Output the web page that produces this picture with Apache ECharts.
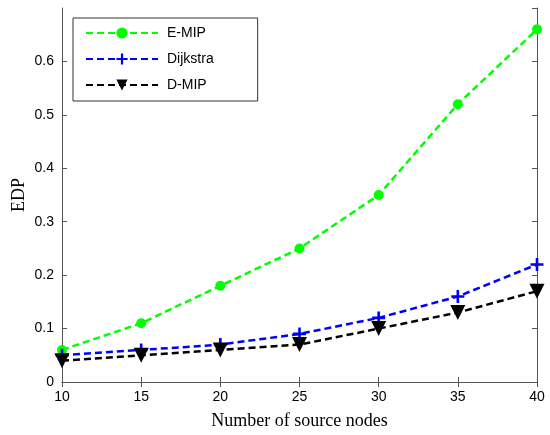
<!DOCTYPE html>
<html lang="en">
<head>
  <meta charset="UTF-8">
  <title>EDP</title>
  <style>
  html, body {
  margin: 0;
  padding: 0;
  width: 100%;
  height: 100%;
  background: #fff;
}

.main {
  width: 550px;
  height: 435px;
}
  </style>
</head>
<body>
<div class="main" id="main"></div>
<script src="https://cdn.jsdelivr.net/npm/echarts@6/dist/echarts.min.js"></script>
<script>
  var sourceNodes = [10, 15, 20, 25, 30, 35, 40];
  var eMip = [0.06, 0.11, 0.18, 0.25, 0.35, 0.52, 0.66];
  var dijkstra = [0.05, 0.06, 0.07, 0.09, 0.12, 0.16, 0.22];
  var dMip = [0.04, 0.05, 0.06, 0.07, 0.10, 0.13, 0.17];
  var seriesNames = ['E-MIP', 'Dijkstra', 'D-MIP'];

  function pairs(ys) {
    return sourceNodes.map(function (x, i) { return [x, ys[i]]; });
  }

  var plusPath = 'path://M4,0h2v4h4v2h-4v4h-2v-4h-4v-2h4z';
  var triPath = 'path://M0,0L10,0L5,9Z';

  var chart = echarts.init(document.getElementById('main'));

  var tickFont = { fontFamily: 'Liberation Sans', fontSize: 14, color: '#000' };
  var axisLine = { lineStyle: { color: '#555', width: 1 } };

  function line(name, ys, color, symbol, size) {
    return {
      name: name,
      type: 'line',
      data: pairs(ys),
      symbol: symbol,
      symbolSize: size,
      showAllSymbol: true,
      lineStyle: { color: color, width: 2.5, type: [7, 4] },
      itemStyle: { color: color },
      animation: false
    };
  }

  var option = {
    backgroundColor: '#fff',
    grid: { left: 62, right: 13, top: 8, bottom: 53, outerBoundsMode: 'none' },
    legend: {
      data: seriesNames,
      orient: 'vertical',
      left: 73,
      top: 18,
      padding: [8, 44, 9, 12],
      itemGap: 12,
      itemWidth: 72,
      itemHeight: 14,
      borderColor: '#333',
      borderWidth: 1,
      backgroundColor: '#fff',
      textStyle: { fontFamily: 'Liberation Sans', fontSize: 14, color: '#000', padding: [0, 0, 0, 4] }
    },
    xAxis: [{
      type: 'value',
      min: 10,
      max: 40,
      interval: 5,
      name: 'Number of source nodes',
      nameLocation: 'middle',
      nameGap: 30,
      nameTextStyle: { fontFamily: 'Liberation Serif', fontSize: 18, color: '#000' },
      axisLine: axisLine,
      axisTick: { inside: true, length: 5, lineStyle: { color: '#555' } },
      axisLabel: tickFont,
      splitLine: { show: false }
    }, {
      type: 'value',
      position: 'top',
      min: 10,
      max: 40,
      interval: 5,
      axisLine: axisLine,
      axisTick: { inside: true, length: 5, lineStyle: { color: '#555' } },
      axisLabel: { show: false },
      splitLine: { show: false }
    }],
    yAxis: [{
      type: 'value',
      min: 0,
      max: 0.7,
      interval: 0.1,
      name: 'EDP',
      nameLocation: 'middle',
      nameGap: 34,
      nameMoveOverlap: false,
      nameTextStyle: { fontFamily: 'Liberation Serif', fontSize: 18, color: '#000' },
      axisLine: axisLine,
      axisTick: { inside: true, length: 5, lineStyle: { color: '#555' } },
      axisLabel: Object.assign({ showMaxLabel: false, formatter: function (v) { return v === 0 ? '0' : v.toFixed(1); } }, tickFont),
      splitLine: { show: false }
    }, {
      type: 'value',
      position: 'right',
      min: 0,
      max: 0.7,
      interval: 0.1,
      axisLine: axisLine,
      axisTick: { inside: true, length: 5, lineStyle: { color: '#555' } },
      axisLabel: { show: false },
      splitLine: { show: false }
    }],
    series: [
      line(seriesNames[0], eMip, '#00ff00', 'circle', 10),
      line(seriesNames[1], dijkstra, '#0000ff', plusPath, 13),
      line(seriesNames[2], dMip, '#000000', triPath, 15)
    ]
  };

  chart.setOption(option);
</script>
</body>
</html>
